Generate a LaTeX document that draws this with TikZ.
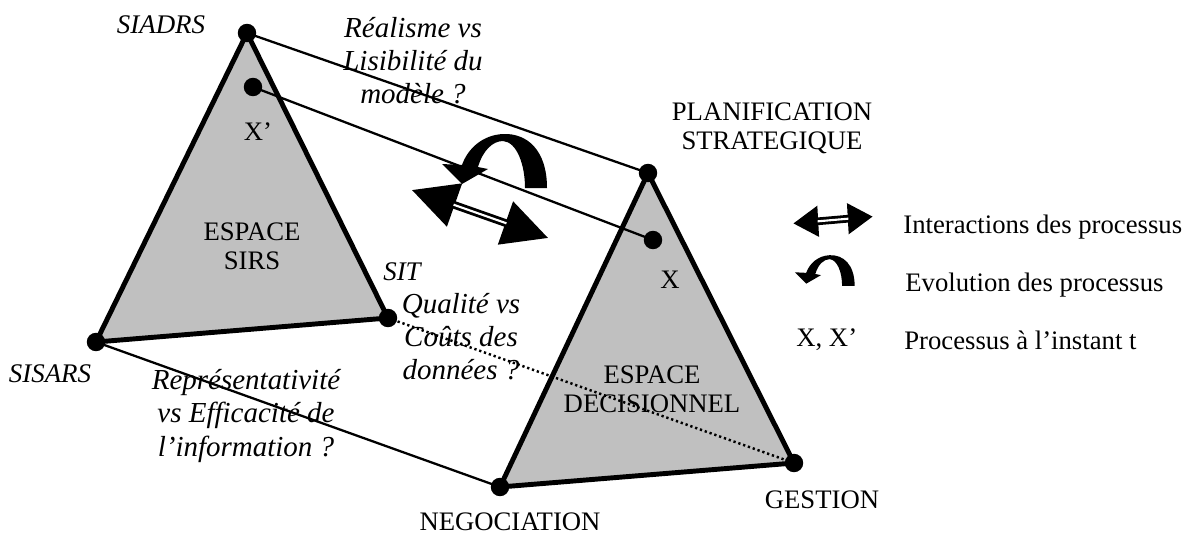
\documentclass[tikz,border=0pt]{standalone}
\usepackage{fontspec}
\setmainfont{Liberation Serif}
\definecolor{gris}{RGB}{192,192,192}
\newcommand{\taille}{\fontsize{15.2}{16.5}\selectfont}
\newcommand{\tailleit}{\itshape\fontsize{15.3}{17}\selectfont}
\newcommand{\tailleq}{\itshape\fontsize{16.5}{18.8}\selectfont}
\tikzset{
  sommet/.style={circle, fill=black, inner sep=0pt, minimum size=10.5pt},
  espace/.style={fill=gris, draw=black, line width=2.8pt, line join=round},
  lien/.style={line width=1.3pt},
  pointille/.style={line width=1.4pt, dash pattern=on 1.3pt off 1.6pt},
  texte/.style={font=\taille, align=center, inner sep=0pt},
  etiq/.style={font=\tailleit, align=center, inner sep=0pt},
  question/.style={font=\tailleq, align=center, inner sep=0pt},
  pics/evolution/.style={code={
    \fill (52,28) .. controls (52,-10) and (32,-27) .. (8,-26)
      .. controls (-12,-25) and (-27,-12) .. (-33,5)
      -- (-53,4) -- (-33,24) -- (-7,9) -- (-17,7)
      .. controls (-12,-10) and (-2,-19) .. (8,-19)
      .. controls (22,-18) and (30,5) .. (30,28) -- cycle;
  }},
  pics/interaction/.style={code={
    \fill (-72,0) -- (-27,-23) -- (-27,23) -- cycle;
    \fill (72,0) -- (27,-23) -- (27,23) -- cycle;
    \draw[line width=1.6pt, double=white, double distance=1.2pt] (-28,0) -- (28,0);
  }}
}
\begin{document}
\begin{tikzpicture}[x=0.02cm, y=-0.02cm]
\useasboundingbox (0,0) rectangle (1190,534);
\path
  (247,33) coordinate (siadrs)
  (96,342) coordinate (sisars)
  (388,318) coordinate (sit)
  (648,173) coordinate (planif)
  (500,487) coordinate (nego)
  (794,463) coordinate (gestion)
  (253,87) coordinate (xp)
  (653,240) coordinate (x);
% les deux espaces
\filldraw[espace] (siadrs) -- (sisars) -- (sit) -- cycle;
\filldraw[espace] (planif) -- (nego) -- (gestion) -- cycle;
% liens entre les espaces
\draw[lien] (siadrs) -- (planif) (sisars) -- (nego) (xp) -- (x);
\draw[pointille] (sit) -- (gestion);
\foreach \p in {siadrs,sisars,sit,planif,nego,gestion,xp,x}
  \node[sommet] (d-\p) at (\p) {};
% fleches
\pic at (495,160) {evolution};
\pic[rotate=-19.4] at (480,214) {interaction};
% etiquettes
\node[etiq] (siadrs-l) at (161,25) {SIADRS};
\node[etiq] (sisars-l) at (50,374) {SISARS};
\node[etiq] (sit-l) at (402,272) {SIT};
\node[texte] (xp-l) at (258,132) {X’};
\node[texte] (x-l) at (670,280) {X};
\node[texte] (sirs) at (252,246) {ESPACE\\SIRS};
\node[texte] (decision) at (652,389) {ESPACE\\DECISIONNEL};
\node[texte] (planif-l) at (772,128) {PLANIFICATION\\STRATEGIQUE};
\node[texte] (nego-l) at (510,522) {NEGOCIATION};
\node[texte] (gestion-l) at (822,500) {GESTION};
\node[question] (realisme) at (413,61) {Réalisme vs\\Lisibilité du\\modèle ?};
\node[question] (qualite) at (461,337) {Qualité vs\\Coûts des\\données ?};
\node[question] (represent) at (246,416) {Représentativité\\vs Efficacité de\\l’information ?};
% legende
\pic[xscale=.55, yscale=.68, rotate=4] at (833,220) {interaction};
\pic[scale=.57] at (825,270) {evolution};
\node[texte, anchor=west] (leg-inter) at (903,227) {Interactions des processus};
\node[texte, anchor=west] (leg-evol) at (905,285) {Evolution des processus};
\node[texte, anchor=west] (leg-xx) at (796,340) {X, X’};
\node[texte, anchor=west] (leg-proc) at (904,340) {Processus à l’instant t};
\end{tikzpicture}
\end{document}
